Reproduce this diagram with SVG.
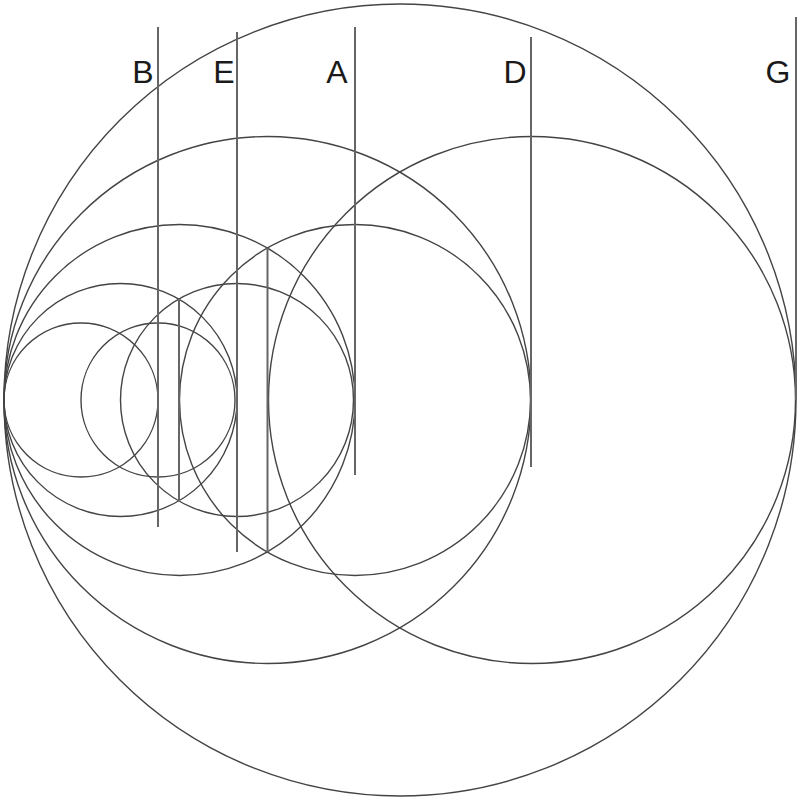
<svg xmlns="http://www.w3.org/2000/svg" width="800" height="801" viewBox="0 0 800 801">
<style>
.c{fill:none;stroke:#444;stroke-width:1.4}
.l{stroke:#666;stroke-width:2;fill:none}
.t{font-family:"Liberation Sans",Arial,sans-serif;font-size:32px;fill:#1a1a1a;text-anchor:middle}
</style>
<rect width="800" height="801" fill="#fff"/>
<g id="circles">
<circle class="c" cx="400" cy="400" r="396"/>
<circle class="c" cx="267.5" cy="400" r="263.5"/>
<circle class="c" cx="179.5" cy="400" r="175.5"/>
<circle class="c" cx="120.5" cy="400" r="116.5"/>
<circle class="c" cx="81" cy="400" r="77"/>
<circle class="c" cx="158" cy="400" r="77"/>
<circle class="c" cx="237" cy="400" r="116.5"/>
<circle class="c" cx="355" cy="400" r="175.5"/>
<circle class="c" cx="532" cy="400" r="263.5"/>
</g>
<g id="connectors">
<line class="l" x1="158" y1="27" x2="158" y2="527"/>
<line class="l" x1="237" y1="32" x2="237" y2="552"/>
<line class="l" x1="355" y1="27" x2="355" y2="475"/>
<line class="l" x1="531" y1="37" x2="531" y2="467"/>
<line class="l" x1="796" y1="17" x2="796" y2="400"/>
<line class="l" x1="179" y1="299" x2="179" y2="501"/>
<line class="l" x1="267.5" y1="248" x2="267.5" y2="552"/>
</g>
<g id="labels">
<text class="t" x="143" y="83">B</text>
<text class="t" x="224" y="83">E</text>
<text class="t" x="337" y="83">A</text>
<text class="t" x="515" y="83">D</text>
<text class="t" x="778" y="83">G</text>
</g>
</svg>
